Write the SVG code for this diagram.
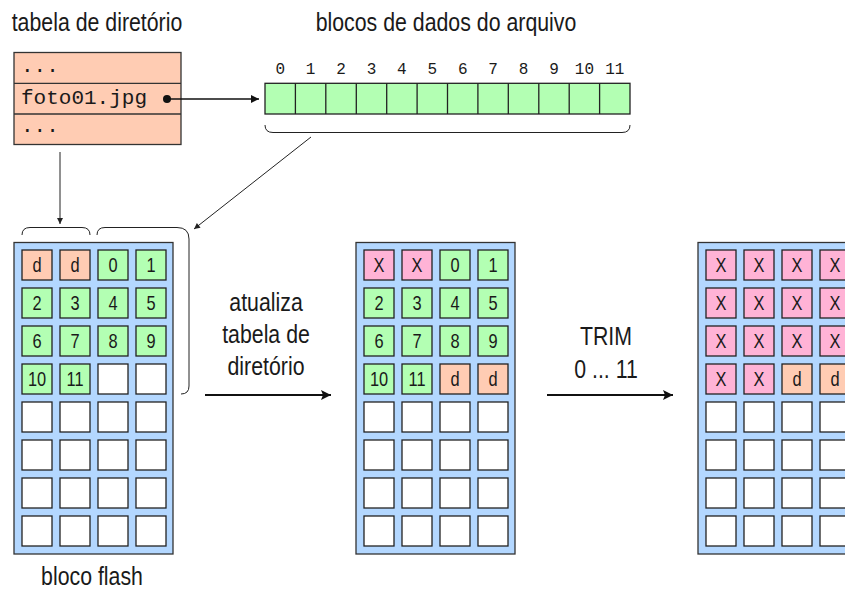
<svg xmlns="http://www.w3.org/2000/svg" width="845" height="592" viewBox="0 0 845 592">
<style>
.lbl{font-family:"Liberation Sans",Arial,sans-serif;font-size:26px;fill:#1a1a1a;text-anchor:middle}
.mono{font-family:"Liberation Mono","DejaVu Sans Mono",monospace;fill:#1a1a1a}
.ct{font-family:"Liberation Sans",Arial,sans-serif;font-size:20px;fill:#1a1a1a;text-anchor:middle}
.blk{fill:#b3d7ff;stroke:#333;stroke-width:1.3}
.c{stroke:#222;stroke-width:1.3}
.w{fill:#fff}.g{fill:#b3ffb3}.s{fill:#ffccb3}.p{fill:#ffb3d6}
.thin{fill:none;stroke:#222;stroke-width:1}
.br{fill:none;stroke:#222;stroke-width:1}
</style>
<defs>
<marker id="ah" viewBox="0 0 10 10" refX="10" refY="5" markerWidth="12" markerHeight="8" markerUnits="userSpaceOnUse" orient="auto"><path d="M0,0 L10,5 L0,10 Z" fill="#111"/></marker>
<marker id="ahs" viewBox="0 0 10 10" refX="10" refY="5" markerWidth="9" markerHeight="6" markerUnits="userSpaceOnUse" orient="auto"><path d="M0,0 L10,5 L0,10 Z" fill="#222"/></marker>
<marker id="ahb" viewBox="0 0 10 10" refX="10" refY="5" markerWidth="16" markerHeight="10" markerUnits="userSpaceOnUse" orient="auto"><path d="M0,0 L10,5 L0,10 L2,5 Z" fill="#111"/></marker>
</defs>

<g id="titles">
<text class="lbl" transform="translate(97,31) scale(0.82,1)">tabela de diretório</text>
<text class="lbl" transform="translate(446,31) scale(0.82,1)">blocos de dados do arquivo</text>
<text class="lbl" transform="translate(92,585) scale(0.82,1)">bloco flash</text>
<text class="lbl" transform="translate(266,311) scale(0.82,1)">atualiza</text>
<text class="lbl" transform="translate(266,343) scale(0.82,1)">tabela de</text>
<text class="lbl" transform="translate(266,375) scale(0.82,1)">diretório</text>
<text class="lbl" transform="translate(606,345) scale(0.82,1)">TRIM</text>
<text class="lbl" transform="translate(606,378) scale(0.82,1)">0 ... 11</text>
</g>

<g id="dir-table">
<rect x="14" y="52.5" width="167" height="92" class="s" stroke="#333" stroke-width="1.3"/>
<line x1="14" y1="83.3" x2="181" y2="83.3" stroke="#333" stroke-width="1.3"/>
<line x1="14" y1="114" x2="181" y2="114" stroke="#333" stroke-width="1.3"/>
<text class="mono" x="21" y="72" font-size="21">...</text>
<text class="mono" x="21" y="104" font-size="21">foto01.jpg</text>
<text class="mono" x="21" y="132" font-size="21">...</text>
<circle cx="167" cy="99" r="4" fill="#111"/>
</g>

<g id="data-blocks">
<rect x="265" y="83.3" width="365" height="30.7" class="g" stroke="#222" stroke-width="1.3"/>
<g stroke="#222" stroke-width="1.3">
<line x1="295.4" y1="83.3" x2="295.4" y2="114"/><line x1="325.8" y1="83.3" x2="325.8" y2="114"/>
<line x1="356.3" y1="83.3" x2="356.3" y2="114"/><line x1="386.7" y1="83.3" x2="386.7" y2="114"/>
<line x1="417.1" y1="83.3" x2="417.1" y2="114"/><line x1="447.5" y1="83.3" x2="447.5" y2="114"/>
<line x1="477.9" y1="83.3" x2="477.9" y2="114"/><line x1="508.3" y1="83.3" x2="508.3" y2="114"/>
<line x1="538.8" y1="83.3" x2="538.8" y2="114"/><line x1="569.2" y1="83.3" x2="569.2" y2="114"/>
<line x1="599.6" y1="83.3" x2="599.6" y2="114"/>
</g>
<g class="mono" font-size="16" text-anchor="middle">
<text x="280.2" y="74">0</text><text x="310.6" y="74">1</text><text x="341" y="74">2</text>
<text x="371.5" y="74">3</text><text x="401.9" y="74">4</text><text x="432.3" y="74">5</text>
<text x="462.7" y="74">6</text><text x="493.1" y="74">7</text><text x="523.5" y="74">8</text>
<text x="554" y="74">9</text><text x="584.4" y="74">10</text><text x="614.8" y="74">11</text>
</g>
</g>

<g id="flash1">
<rect x="14" y="242.5" width="159" height="311.5" class="blk"/>
<rect x="22" y="250" width="30" height="30" class="c s"/><rect x="60" y="250" width="30" height="30" class="c s"/><rect x="98" y="250" width="30" height="30" class="c g"/><rect x="136" y="250" width="30" height="30" class="c g"/>
<rect x="22" y="288" width="30" height="30" class="c g"/><rect x="60" y="288" width="30" height="30" class="c g"/><rect x="98" y="288" width="30" height="30" class="c g"/><rect x="136" y="288" width="30" height="30" class="c g"/>
<rect x="22" y="326" width="30" height="30" class="c g"/><rect x="60" y="326" width="30" height="30" class="c g"/><rect x="98" y="326" width="30" height="30" class="c g"/><rect x="136" y="326" width="30" height="30" class="c g"/>
<rect x="22" y="364" width="30" height="30" class="c g"/><rect x="60" y="364" width="30" height="30" class="c g"/><rect x="98" y="364" width="30" height="30" class="c w"/><rect x="136" y="364" width="30" height="30" class="c w"/>
<rect x="22" y="402" width="30" height="30" class="c w"/><rect x="60" y="402" width="30" height="30" class="c w"/><rect x="98" y="402" width="30" height="30" class="c w"/><rect x="136" y="402" width="30" height="30" class="c w"/>
<rect x="22" y="440" width="30" height="30" class="c w"/><rect x="60" y="440" width="30" height="30" class="c w"/><rect x="98" y="440" width="30" height="30" class="c w"/><rect x="136" y="440" width="30" height="30" class="c w"/>
<rect x="22" y="478" width="30" height="30" class="c w"/><rect x="60" y="478" width="30" height="30" class="c w"/><rect x="98" y="478" width="30" height="30" class="c w"/><rect x="136" y="478" width="30" height="30" class="c w"/>
<rect x="22" y="516" width="30" height="30" class="c w"/><rect x="60" y="516" width="30" height="30" class="c w"/><rect x="98" y="516" width="30" height="30" class="c w"/><rect x="136" y="516" width="30" height="30" class="c w"/>
<text class="ct" transform="translate(37,272) scale(0.82,1)">d</text><text class="ct" transform="translate(75,272) scale(0.82,1)">d</text><text class="ct" transform="translate(113,272) scale(0.82,1)">0</text><text class="ct" transform="translate(151,272) scale(0.82,1)">1</text>
<text class="ct" transform="translate(37,310) scale(0.82,1)">2</text><text class="ct" transform="translate(75,310) scale(0.82,1)">3</text><text class="ct" transform="translate(113,310) scale(0.82,1)">4</text><text class="ct" transform="translate(151,310) scale(0.82,1)">5</text>
<text class="ct" transform="translate(37,348) scale(0.82,1)">6</text><text class="ct" transform="translate(75,348) scale(0.82,1)">7</text><text class="ct" transform="translate(113,348) scale(0.82,1)">8</text><text class="ct" transform="translate(151,348) scale(0.82,1)">9</text>
<text class="ct" transform="translate(37,386) scale(0.82,1)">10</text><text class="ct" transform="translate(75,386) scale(0.82,1)">11</text>
</g>

<g id="flash2">
<rect x="356" y="242.5" width="159" height="311.5" class="blk"/>
<rect x="364" y="250" width="30" height="30" class="c p"/><rect x="402" y="250" width="30" height="30" class="c p"/><rect x="440" y="250" width="30" height="30" class="c g"/><rect x="478" y="250" width="30" height="30" class="c g"/>
<rect x="364" y="288" width="30" height="30" class="c g"/><rect x="402" y="288" width="30" height="30" class="c g"/><rect x="440" y="288" width="30" height="30" class="c g"/><rect x="478" y="288" width="30" height="30" class="c g"/>
<rect x="364" y="326" width="30" height="30" class="c g"/><rect x="402" y="326" width="30" height="30" class="c g"/><rect x="440" y="326" width="30" height="30" class="c g"/><rect x="478" y="326" width="30" height="30" class="c g"/>
<rect x="364" y="364" width="30" height="30" class="c g"/><rect x="402" y="364" width="30" height="30" class="c g"/><rect x="440" y="364" width="30" height="30" class="c s"/><rect x="478" y="364" width="30" height="30" class="c s"/>
<rect x="364" y="402" width="30" height="30" class="c w"/><rect x="402" y="402" width="30" height="30" class="c w"/><rect x="440" y="402" width="30" height="30" class="c w"/><rect x="478" y="402" width="30" height="30" class="c w"/>
<rect x="364" y="440" width="30" height="30" class="c w"/><rect x="402" y="440" width="30" height="30" class="c w"/><rect x="440" y="440" width="30" height="30" class="c w"/><rect x="478" y="440" width="30" height="30" class="c w"/>
<rect x="364" y="478" width="30" height="30" class="c w"/><rect x="402" y="478" width="30" height="30" class="c w"/><rect x="440" y="478" width="30" height="30" class="c w"/><rect x="478" y="478" width="30" height="30" class="c w"/>
<rect x="364" y="516" width="30" height="30" class="c w"/><rect x="402" y="516" width="30" height="30" class="c w"/><rect x="440" y="516" width="30" height="30" class="c w"/><rect x="478" y="516" width="30" height="30" class="c w"/>
<text class="ct" transform="translate(379,272) scale(0.82,1)">X</text><text class="ct" transform="translate(417,272) scale(0.82,1)">X</text><text class="ct" transform="translate(455,272) scale(0.82,1)">0</text><text class="ct" transform="translate(493,272) scale(0.82,1)">1</text>
<text class="ct" transform="translate(379,310) scale(0.82,1)">2</text><text class="ct" transform="translate(417,310) scale(0.82,1)">3</text><text class="ct" transform="translate(455,310) scale(0.82,1)">4</text><text class="ct" transform="translate(493,310) scale(0.82,1)">5</text>
<text class="ct" transform="translate(379,348) scale(0.82,1)">6</text><text class="ct" transform="translate(417,348) scale(0.82,1)">7</text><text class="ct" transform="translate(455,348) scale(0.82,1)">8</text><text class="ct" transform="translate(493,348) scale(0.82,1)">9</text>
<text class="ct" transform="translate(379,386) scale(0.82,1)">10</text><text class="ct" transform="translate(417,386) scale(0.82,1)">11</text><text class="ct" transform="translate(455,386) scale(0.82,1)">d</text><text class="ct" transform="translate(493,386) scale(0.82,1)">d</text>
</g>

<g id="flash3">
<rect x="698" y="242.5" width="159" height="311.5" class="blk"/>
<rect x="706" y="250" width="30" height="30" class="c p"/><rect x="744" y="250" width="30" height="30" class="c p"/><rect x="782" y="250" width="30" height="30" class="c p"/><rect x="820" y="250" width="30" height="30" class="c p"/>
<rect x="706" y="288" width="30" height="30" class="c p"/><rect x="744" y="288" width="30" height="30" class="c p"/><rect x="782" y="288" width="30" height="30" class="c p"/><rect x="820" y="288" width="30" height="30" class="c p"/>
<rect x="706" y="326" width="30" height="30" class="c p"/><rect x="744" y="326" width="30" height="30" class="c p"/><rect x="782" y="326" width="30" height="30" class="c p"/><rect x="820" y="326" width="30" height="30" class="c p"/>
<rect x="706" y="364" width="30" height="30" class="c p"/><rect x="744" y="364" width="30" height="30" class="c p"/><rect x="782" y="364" width="30" height="30" class="c s"/><rect x="820" y="364" width="30" height="30" class="c s"/>
<rect x="706" y="402" width="30" height="30" class="c w"/><rect x="744" y="402" width="30" height="30" class="c w"/><rect x="782" y="402" width="30" height="30" class="c w"/><rect x="820" y="402" width="30" height="30" class="c w"/>
<rect x="706" y="440" width="30" height="30" class="c w"/><rect x="744" y="440" width="30" height="30" class="c w"/><rect x="782" y="440" width="30" height="30" class="c w"/><rect x="820" y="440" width="30" height="30" class="c w"/>
<rect x="706" y="478" width="30" height="30" class="c w"/><rect x="744" y="478" width="30" height="30" class="c w"/><rect x="782" y="478" width="30" height="30" class="c w"/><rect x="820" y="478" width="30" height="30" class="c w"/>
<rect x="706" y="516" width="30" height="30" class="c w"/><rect x="744" y="516" width="30" height="30" class="c w"/><rect x="782" y="516" width="30" height="30" class="c w"/><rect x="820" y="516" width="30" height="30" class="c w"/>
<text class="ct" transform="translate(721,272) scale(0.82,1)">X</text><text class="ct" transform="translate(759,272) scale(0.82,1)">X</text><text class="ct" transform="translate(797,272) scale(0.82,1)">X</text><text class="ct" transform="translate(835,272) scale(0.82,1)">X</text>
<text class="ct" transform="translate(721,310) scale(0.82,1)">X</text><text class="ct" transform="translate(759,310) scale(0.82,1)">X</text><text class="ct" transform="translate(797,310) scale(0.82,1)">X</text><text class="ct" transform="translate(835,310) scale(0.82,1)">X</text>
<text class="ct" transform="translate(721,348) scale(0.82,1)">X</text><text class="ct" transform="translate(759,348) scale(0.82,1)">X</text><text class="ct" transform="translate(797,348) scale(0.82,1)">X</text><text class="ct" transform="translate(835,348) scale(0.82,1)">X</text>
<text class="ct" transform="translate(721,386) scale(0.82,1)">X</text><text class="ct" transform="translate(759,386) scale(0.82,1)">X</text><text class="ct" transform="translate(797,386) scale(0.82,1)">d</text><text class="ct" transform="translate(835,386) scale(0.82,1)">d</text>
</g>

<g id="connectors">
<path class="br" d="M265,125 Q265,132.5 273,132.5 L622,132.5 Q630,132.5 630,125"/>
<path class="br" d="M22,235 Q22,227.5 30,227.5 L82,227.5 Q90,227.5 90,235"/>
<path class="br" d="M97,235 Q97,227.5 105,227.5 L177,227.5 Q189,227.5 189,239 L189,386 Q189,394 181,394"/>
<line x1="167" y1="99" x2="259" y2="99" stroke="#111" stroke-width="1.5" marker-end="url(#ah)"/>
<line x1="60" y1="152" x2="60" y2="224" class="thin" marker-end="url(#ahs)"/>
<line x1="311" y1="137" x2="194" y2="229" class="thin" marker-end="url(#ahs)"/>
<line x1="205" y1="395" x2="331" y2="395" stroke="#111" stroke-width="2" marker-end="url(#ahb)"/>
<line x1="547" y1="395" x2="673" y2="395" stroke="#111" stroke-width="2" marker-end="url(#ahb)"/>
</g>
</svg>
